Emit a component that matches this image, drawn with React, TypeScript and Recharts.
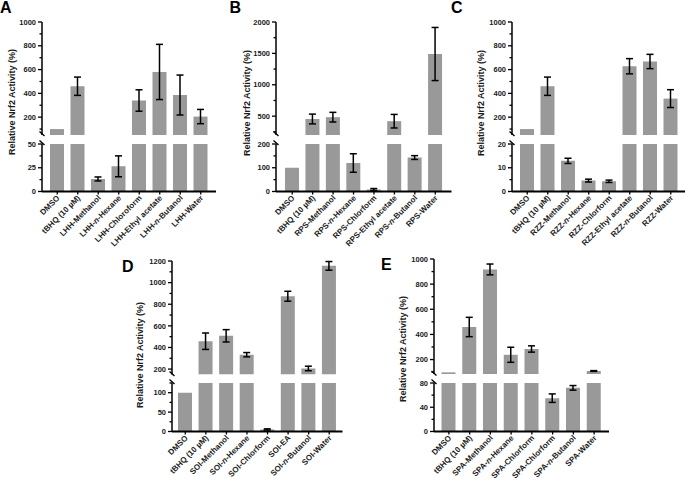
import { BarChart, Bar, XAxis, YAxis, ErrorBar } from 'recharts';

const FONT = 'Arial, "Liberation Sans", Helvetica, sans-serif';
const BAR_FILL = '#999999';
const INK = '#1a1a1a';

// ---- panel A: LHH extracts
const aLabels = ['DMSO', 'tBHQ (10 µM)', 'LHH-Methanol', 'LHH-n-Hexane', 'LHH-Chloroform', 'LHH-Ethyl acetate', 'LHH-n-Butanol', 'LHH-Water'];
const aValues = [100, 460, 13.2, 26.5, 340, 580, 386, 205];
const aErrors = [0, 77, 2.1, 11, 90, 232, 168, 60];
const aUpperTicks = [100, 200, 300, 400, 500, 600, 700, 800, 900, 1000];
const aUpperMajor = [200, 400, 600, 800, 1000];
const aLowerTicks = [0, 12.5, 25, 37.5, 50];
const aLowerMajor = [0, 25, 50];

// ---- panel B: RPS extracts
const bLabels = ['DMSO', 'tBHQ (10 µM)', 'RPS-Methanol', 'RPS-n-Hexane', 'RPS-Chlorform', 'RPS-Ethyl acetate', 'RPS-n-Butanol', 'RPS-Water'];
const bValues = [100, 455, 484, 120, 8.5, 420, 143, 1490];
const bErrors = [0, 78, 77, 39, 4, 108, 8, 423];
const bUpperTicks = [250, 500, 750, 1000, 1250, 1500, 1750, 2000];
const bUpperMajor = [500, 1000, 1500, 2000];
const bLowerTicks = [0, 50, 100, 150, 200];
const bLowerMajor = [0, 100, 200];

// ---- panel C: RZZ extracts
const cLabels = ['DMSO', 'tBHQ (10 µM)', 'RZZ-Methanol', 'RZZ-n-Hexane', 'RZZ-Chlorform', 'RZZ-Ethyl acetate', 'RZZ-n-Butanol', 'RZZ-Water'];
const cValues = [100, 460, 12.9, 4.6, 4.3, 628, 668, 356];
const cErrors = [0, 77, 1.1, 0.6, 0.5, 64, 60, 75];
const cUpperTicks = [100, 200, 300, 400, 500, 600, 700, 800, 900, 1000];
const cUpperMajor = [200, 400, 600, 800, 1000];
const cLowerTicks = [0, 5, 10, 15, 20];
const cLowerMajor = [0, 10, 20];

// ---- panel D: SOI extracts
const dLabels = ['DMSO', 'tBHQ (10 µM)', 'SOI-Methanol', 'SOI-n-Hexane', 'SOI-Chlorform', 'SOI-EA', 'SOI-n-Butanol', 'SOI-Water'];
const dValues = [100, 458, 508, 333, 5.3, 874, 206, 1155];
const dErrors = [0, 76, 57, 20, 1.5, 46, 21, 40];
const dUpperTicks = [200, 300, 400, 500, 600, 700, 800, 900, 1000, 1100, 1200];
const dUpperMajor = [200, 400, 600, 800, 1000, 1200];
const dLowerTicks = [0, 25, 50, 75, 100, 125];
const dLowerMajor = [0, 50, 100];

// ---- panel E: SPA extracts
const eLabels = ['DMSO', 'tBHQ (10 µM)', 'SPA-Methanol', 'SPA-n-Hexane', 'SPA-Chlorform', 'SPA-Chlorform', 'SPA-n-Butanol', 'SPA-Water'];
const eValues = [98, 459, 917, 238, 284, 55, 72, 109];
const eErrors = [0, 77, 43, 60, 25, 7, 3.8, 3];
const eUpperTicks = [100, 200, 300, 400, 500, 600, 700, 800, 900, 1000];
const eUpperMajor = [200, 400, 600, 800, 1000];
const eLowerTicks = [0, 20, 40, 60, 80];
const eLowerMajor = [0, 40, 80];

const YW = 40;
const TOP_M = 6;
const X_H = 75;

function renderYTick(props: any, majors: number[]) {
  const { x, y, payload } = props;
  const major = majors.includes(payload.value);
  return (
    <g>
      <line x1={x - (major ? 4 : 2.5)} x2={x} y1={y} y2={y} stroke="#000" strokeWidth={1.3} />
      {major && (
        <text x={x - 6} y={y} dy={2.7} textAnchor="end" fontSize={7.5} fontWeight="bold" fontFamily={FONT} fill={INK}>
          {payload.value}
        </text>
      )}
    </g>
  );
}

function renderXTick(props: any) {
  const { x, y, payload } = props;
  const label: string = String(payload.value);
  const k = label.indexOf('-n-');
  return (
    <g>
      <line x1={x} x2={x} y1={y} y2={y + 3} stroke="#000" strokeWidth={1.3} />
      <text transform={`translate(${x + 3},${y + 7}) rotate(-45)`} textAnchor="end" fontSize={8} fontWeight="bold" fontFamily={FONT} fill={INK}>
        {k >= 0 ? (
          <>
            <tspan>{label.slice(0, k + 1)}</tspan>
            <tspan fontStyle="italic">n</tspan>
            <tspan>{label.slice(k + 2)}</tspan>
          </>
        ) : label}
      </text>
    </g>
  );
}

interface Layout {
  axisX: number; plotRight: number; pad: number;
  upperTop: number; upperBottom: number; lowerTop: number; lowerBottom: number;
}

interface PanelProps {
  layout: Layout;
  labels: string[]; values: number[]; errors: number[];
  upperMin: number; upperMax: number; upperTicks: number[]; upperMajor: number[];
  lowerMax: number; lowerTicks: number[]; lowerMajor: number[];
}

function Panel(p: PanelProps) {
  const { axisX, plotRight, pad, upperTop, upperBottom, lowerTop, lowerBottom } = p.layout;
  const rows = p.labels.map((name, i) => {
    const v = p.values[i];
    const e = p.errors[i];
    return {
      name,
      hi: v >= p.upperMin ? v : null,
      hiErr: v > p.lowerMax && e ? e : null,
      lo: Math.min(v, p.lowerMax),
      loErr: v <= p.lowerMax && e ? e : null,
    };
  });
  const chartW = YW + (plotRight - axisX) + 2;
  const margin = { top: TOP_M, right: 2, bottom: 0, left: 0 };

  return (
    <>
      <div style={{ position: 'absolute', left: axisX - YW, top: upperTop - TOP_M }}>
        <BarChart width={chartW} height={TOP_M + upperBottom - upperTop} data={rows} margin={margin} barSize={14}>
          <XAxis dataKey="name" hide padding={{ left: pad, right: pad }} interval={0} />
          <YAxis
            type="number"
            width={YW}
            domain={[p.upperMin, p.upperMax]}
            allowDataOverflow
            ticks={p.upperTicks}
            interval={0}
            tickSize={0}
            tickMargin={0}
            tickLine={false}
            axisLine={{ stroke: '#000', strokeWidth: 1.5 }}
            tick={(t: any) => renderYTick(t, p.upperMajor)}
          />
          <Bar dataKey="hi" fill={BAR_FILL} isAnimationActive={false}>
            <ErrorBar dataKey="hiErr" width={3.5} stroke="#000" strokeWidth={1.5} isAnimationActive={false} />
          </Bar>
        </BarChart>
      </div>
      <div style={{ position: 'absolute', left: axisX - YW, top: lowerTop - TOP_M }}>
        <BarChart width={chartW} height={TOP_M + lowerBottom - lowerTop + X_H} data={rows} margin={margin} barSize={14}>
          <XAxis
            dataKey="name"
            height={X_H}
            padding={{ left: pad, right: pad }}
            interval={0}
            tickSize={0}
            tickMargin={0}
            tickLine={false}
            axisLine={{ stroke: '#000', strokeWidth: 2 }}
            tick={renderXTick}
          />
          <YAxis
            type="number"
            width={YW}
            domain={[0, p.lowerMax]}
            allowDataOverflow
            ticks={p.lowerTicks}
            interval={0}
            tickSize={0}
            tickMargin={0}
            tickLine={false}
            axisLine={{ stroke: '#000', strokeWidth: 1.5 }}
            tick={(t: any) => renderYTick(t, p.lowerMajor)}
          />
          <Bar dataKey="lo" fill={BAR_FILL} isAnimationActive={false}>
            <ErrorBar dataKey="loErr" width={3.5} stroke="#000" strokeWidth={1.5} isAnimationActive={false} />
          </Bar>
        </BarChart>
      </div>
    </>
  );
}

const layoutA: Layout = { axisX: 42, plotRight: 216, pad: 5, upperTop: 21.5, upperBottom: 134.5, lowerTop: 143.5, lowerBottom: 191 };
const layoutB: Layout = { axisX: 276, plotRight: 451.5, pad: 6, upperTop: 21.5, upperBottom: 134.5, lowerTop: 143.5, lowerBottom: 191 };
const layoutC: Layout = { axisX: 512, plotRight: 686, pad: 5, upperTop: 21.5, upperBottom: 134.5, lowerTop: 143.5, lowerBottom: 191 };
const layoutD: Layout = { axisX: 172, plotRight: 342.5, pad: 3, upperTop: 261, upperBottom: 374.5, lowerTop: 382.5, lowerBottom: 431 };
const layoutE: Layout = { axisX: 434, plotRight: 609, pad: 4.5, upperTop: 259, upperBottom: 374, lowerTop: 382.5, lowerBottom: 431 };

const layouts = [layoutA, layoutB, layoutC, layoutD, layoutE];
const letters = [
  { t: 'A', x: 0, y: 12.5 },
  { t: 'B', x: 229.5, y: 12.5 },
  { t: 'C', x: 451, y: 12.5 },
  { t: 'D', x: 122, y: 272 },
  { t: 'E', x: 381, y: 270 },
];
const titles = [
  { x: 12, y: 102 },
  { x: 247, y: 103 },
  { x: 481, y: 103 },
  { x: 140, y: 355 },
  { x: 403, y: 349 },
];

export default function App() {
  return (
    <div style={{ position: 'absolute', left: 0, top: 0, width: 685, height: 486, background: '#fff', overflow: 'hidden' }}>
      <Panel layout={layoutA} labels={aLabels} values={aValues} errors={aErrors}
        upperMin={50} upperMax={1000} upperTicks={aUpperTicks} upperMajor={aUpperMajor}
        lowerMax={50} lowerTicks={aLowerTicks} lowerMajor={aLowerMajor} />
      <Panel layout={layoutB} labels={bLabels} values={bValues} errors={bErrors}
        upperMin={200} upperMax={2000} upperTicks={bUpperTicks} upperMajor={bUpperMajor}
        lowerMax={200} lowerTicks={bLowerTicks} lowerMajor={bLowerMajor} />
      <Panel layout={layoutC} labels={cLabels} values={cValues} errors={cErrors}
        upperMin={50} upperMax={1000} upperTicks={cUpperTicks} upperMajor={cUpperMajor}
        lowerMax={20} lowerTicks={cLowerTicks} lowerMajor={cLowerMajor} />
      <Panel layout={layoutD} labels={dLabels} values={dValues} errors={dErrors}
        upperMin={150} upperMax={1200} upperTicks={dUpperTicks} upperMajor={dUpperMajor}
        lowerMax={125} lowerTicks={dLowerTicks} lowerMajor={dLowerMajor} />
      <Panel layout={layoutE} labels={eLabels} values={eValues} errors={eErrors}
        upperMin={85} upperMax={1000} upperTicks={eUpperTicks} upperMajor={eUpperMajor}
        lowerMax={80} lowerTicks={eLowerTicks} lowerMajor={eLowerMajor} />

      {/* letters, axis titles and break marks */}
      <svg width={685} height={486} style={{ position: 'absolute', left: 0, top: 0, pointerEvents: 'none' }}>
        {letters.map((l) => (
          <text key={l.t} x={l.x} y={l.y} fontSize={16} fontWeight="bold" fontFamily={FONT} fill="#000">{l.t}</text>
        ))}
        {titles.map((t, i) => (
          <text key={i} transform={`translate(${t.x},${t.y}) rotate(-90)`} textAnchor="middle" dominantBaseline="central"
            fontSize={9} fontWeight="bold" fontFamily={FONT} fill={INK}>
            Relative Nrf2 Activity  (%)
          </text>
        ))}
        {layouts.map((l, i) => (
          <g key={i} stroke="#000" strokeWidth={1.4}>
            <line x1={l.axisX - 2.5} y1={l.upperBottom - 3} x2={l.axisX + 2.5} y2={l.upperBottom + 1.5} />
            <line x1={l.axisX - 2.5} y1={l.lowerTop - 3} x2={l.axisX + 2.5} y2={l.lowerTop + 1.5} />
          </g>
        ))}
      </svg>
    </div>
  );
}
